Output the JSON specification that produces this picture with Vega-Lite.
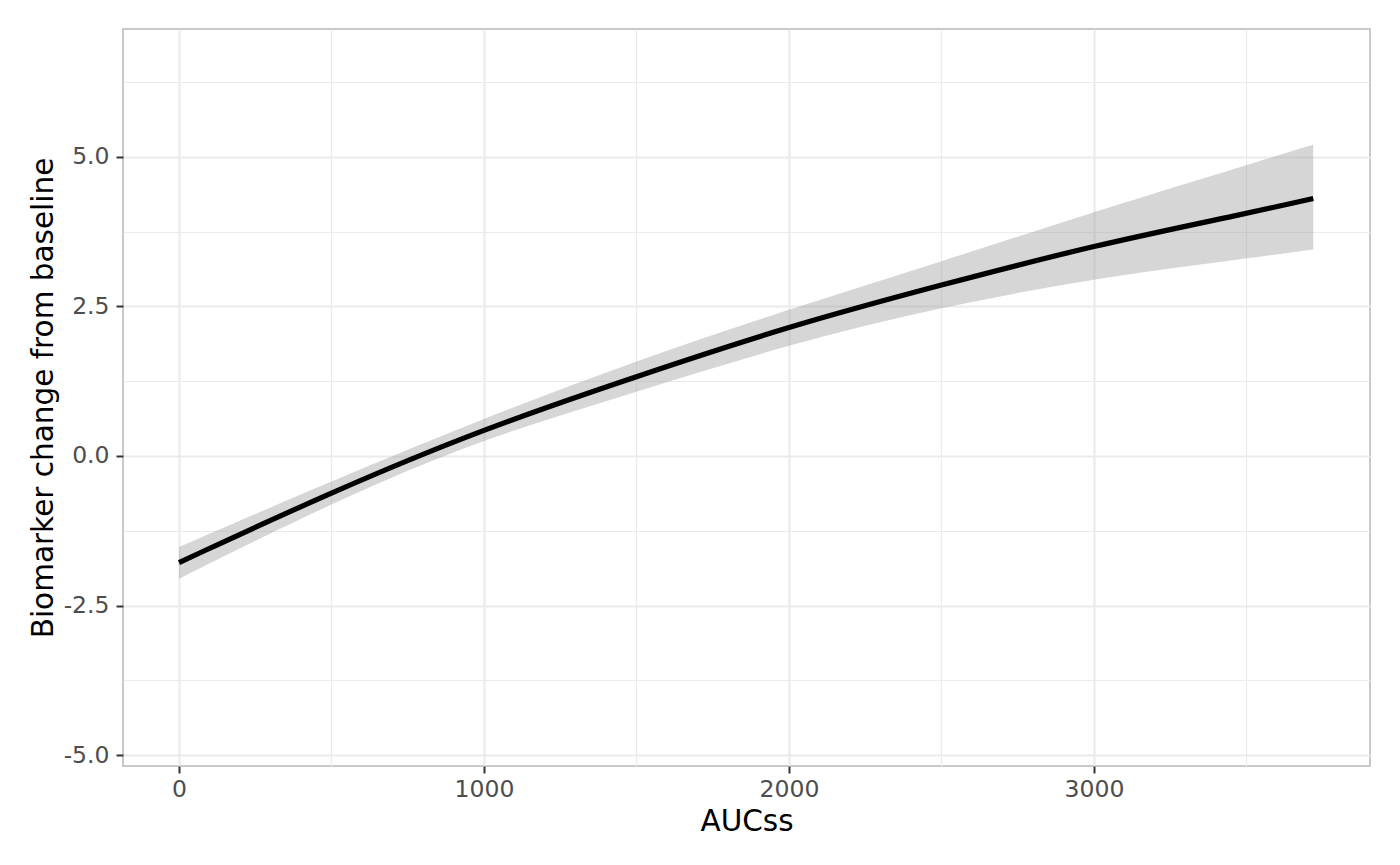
{
  "$schema": "https://vega.github.io/schema/vega-lite/v6.json",
  "width": 1247,
  "height": 737,
  "autosize": "none",
  "padding": {"left": 123, "top": 29, "right": 30, "bottom": 99},
  "background": "white",
  "config": {
    "view": {"stroke": "#C8C8C8", "strokeWidth": 2},
    "axis": {
      "labelFont": "DejaVu Sans",
      "titleFont": "DejaVu Sans",
      "labelFontSize": 23.5,
      "titleFontSize": 29.5,
      "titleFontWeight": "normal",
      "labelColor": "#4D4D4D",
      "titleColor": "#000000",
      "domain": false,
      "tickColor": "#333333",
      "tickWidth": 2,
      "tickSize": 7,
      "gridColor": "#EBEBEB"
    }
  },
  "data": {
    "values": [
      {"x": 0, "fit": -1.78, "lo": -2.05, "hi": -1.52},
      {"x": 500, "fit": -0.6, "lo": -0.78, "hi": -0.42},
      {"x": 1000, "fit": 0.46, "lo": 0.3, "hi": 0.63},
      {"x": 1500, "fit": 1.33, "lo": 1.07, "hi": 1.6},
      {"x": 2000, "fit": 2.17, "lo": 1.87, "hi": 2.45},
      {"x": 2500, "fit": 2.86, "lo": 2.49, "hi": 3.25},
      {"x": 3000, "fit": 3.52, "lo": 2.97, "hi": 4.08},
      {"x": 3500, "fit": 4.05, "lo": 3.3, "hi": 4.86},
      {"x": 3719, "fit": 4.3, "lo": 3.45, "hi": 5.2}
    ]
  },
  "encoding": {
    "x": {
      "field": "x",
      "type": "quantitative",
      "title": "AUCss",
      "scale": {"domain": [-183.6, 3905], "nice": false, "zero": false},
      "axis": {
        "values": [0, 500, 1000, 1500, 2000, 2500, 3000, 3500],
        "format": "d",
        "labelExpr": "datum.value % 1000 == 0 ? datum.label : ''",
        "labelPadding": 4,
        "titleBaseline": "alphabetic",
        "titleY": 64,
        "gridWidth": {"condition": {"test": "datum.value % 1000 != 0", "value": 1.2}, "value": 2.2},
        "tickOpacity": {"condition": {"test": "datum.value % 1000 != 0", "value": 0}, "value": 1}
      }
    }
  },
  "layer": [
    {
      "mark": {"type": "area", "fill": "#999999", "opacity": 0.4, "interpolate": "basis"},
      "encoding": {
        "y": {
          "field": "lo",
          "type": "quantitative",
          "title": "Biomarker change from baseline",
          "scale": {"domain": [-5.179, 7.133], "nice": false, "zero": false},
          "axis": {
            "values": [-5, -3.75, -2.5, -1.25, 0, 1.25, 2.5, 3.75, 5, 6.25],
            "format": ".1f",
            "labelExpr": "datum.value % 2.5 == 0 ? replace(datum.label, '−', '-') : ''",
            "labelPadding": 7,
            "titleBaseline": "alphabetic",
            "titleX": -71,
            "gridWidth": {"condition": {"test": "datum.value % 2.5 != 0", "value": 1.2}, "value": 2.2},
            "tickOpacity": {"condition": {"test": "datum.value % 2.5 != 0", "value": 0}, "value": 1}
          }
        },
        "y2": {"field": "hi"}
      }
    },
    {
      "mark": {"type": "line", "color": "#000000", "strokeWidth": 5.2, "interpolate": "basis"},
      "encoding": {
        "y": {"field": "fit", "type": "quantitative"}
      }
    }
  ]
}
